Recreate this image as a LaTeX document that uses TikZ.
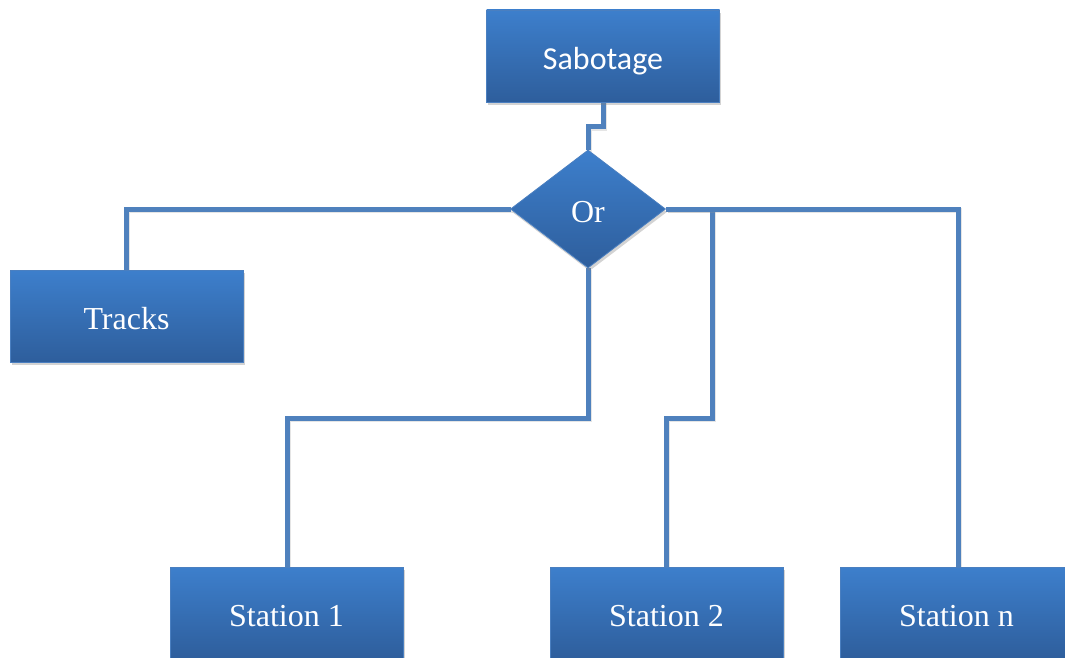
\documentclass[tikz,border=0pt]{standalone}
\usepackage{fontspec}
\setmainfont{Liberation Serif}
\newfontfamily\calib{Carlito}
\usetikzlibrary{shapes.geometric,shadows}
\definecolor{boxtop}{HTML}{3D7FCC}
\definecolor{boxbot}{HTML}{2E5E9C}
\definecolor{boxedge}{HTML}{4A7FC0}
\definecolor{linkc}{HTML}{4F81BD}
\tikzset{
  blockbox/.style={rectangle, minimum width=233pt, minimum height=92pt, inner sep=0pt,
    text height=27pt, text depth=0pt,
    top color=boxtop, bottom color=boxbot, draw=boxedge, line width=0.8pt,
    text=white, font=\fontsize{32}{38}\selectfont,
    drop shadow={shadow xshift=1.5pt, shadow yshift=-3pt, opacity=0.35}},
  gate/.style={diamond, minimum width=155pt, minimum height=118pt, inner sep=0pt,
    text height=27pt, text depth=0pt,
    top color=boxtop, bottom color=boxbot, draw=boxedge, line width=0.8pt,
    text=white, font=\fontsize{32}{38}\selectfont,
    drop shadow={shadow xshift=1.5pt, shadow yshift=-3pt, opacity=0.35}},
  link/.style={draw=linkc, line width=5pt, line join=miter,
    preaction={draw=black!40, opacity=0.25, line width=5pt, transform canvas={xshift=1.5pt, yshift=-1.5pt}}}
}
\begin{document}
\begin{tikzpicture}[x=1pt,y=-1pt]
\useasboundingbox (0,0) rectangle (1065,658);
% connectors first (behind nodes)
\coordinate (sabB) at (603,102);
\coordinate (orT) at (588,150);
\coordinate (orL) at (511,209);
\coordinate (orR) at (666,209);
\coordinate (orBt) at (588,268);
\coordinate (trT) at (126,270);
\coordinate (s1T) at (287,567);
\coordinate (s2T) at (666,567);
\coordinate (snT) at (958,567);
\draw[link] (sabB) -- (603,127) -- (588,127) -- (orT);
\draw[link] (orL) -- (126,209) -- (trT);
\draw[link] (orBt) -- (588,418) -- (287,418) -- (s1T);
\draw[link] (orR) -- (712,209) -- (712,418) -- (666,418) -- (s2T);
\draw[link] (orR) -- (958,209) -- (snT);
% nodes
\node[blockbox, font=\calib\fontsize{32}{38}\selectfont] (sab) at (603,56) {Sabotage};
\node[gate] (or) at (588,209) {Or};
\node[blockbox] (tracks) at (126.5,316) {Tracks};
\node[blockbox] (s1) at (286.5,613) {Station 1};
\node[blockbox] (s2) at (666.5,613) {Station 2};
\node[blockbox] (sn) at (956.5,613) {Station n};
\end{tikzpicture}
\end{document}
